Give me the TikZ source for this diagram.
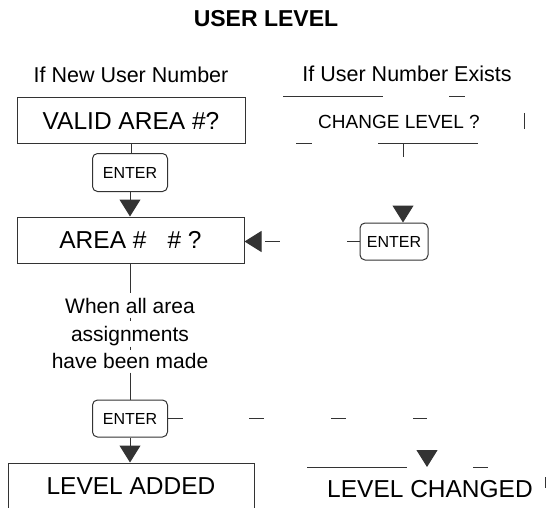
\documentclass[tikz,border=0pt]{standalone}
\usepackage{fontspec}
\setmainfont{Liberation Sans}
\usetikzlibrary{arrows.meta}
\begin{document}
\begin{tikzpicture}[x=1pt,y=-1pt,
  ln/.style={draw=black!80, line width=1pt},
  box/.style={ln, rectangle, inner sep=0pt, font=\fontsize{24.5}{29}\selectfont},
  entbox/.style={ln, rectangle, rounded corners=5pt, minimum width=75pt, minimum height=38pt, inner sep=0pt, font=\fontsize{16}{19}\selectfont},
  hdr/.style={font=\fontsize{21.5}{26}\selectfont, inner sep=0pt, anchor=base},
  note/.style={font=\fontsize{21}{25}\selectfont, inner sep=0pt, anchor=base},
  big/.style={font=\fontsize{24.5}{29}\selectfont, inner sep=0pt},
  tip/.style={-{Triangle[length=17pt,width=21pt]}}
]
\useasboundingbox (0,0) rectangle (551,508);

% texts and boxes
\node[font=\bfseries\fontsize{23}{27}\selectfont, inner sep=0pt] (title) at (266,18.5) {USER LEVEL};
\node[hdr] (hnew) at (131,83) {If New User Number};
\node[hdr] (hex) at (407,82) {If User Number Exists};
\node[box, minimum width=228pt, minimum height=45pt] (valid) at (131,120.5) {VALID AREA \#?};
\node[big, font=\fontsize{19}{23}\selectfont] (chg) at (399,122) {CHANGE LEVEL ?};
\node[entbox] (e1) at (130,172.5) {ENTER};
\node[box, minimum width=227pt, minimum height=46pt] (area) at (130.5,240) {AREA~\#\hspace{21pt}\#~?};
\node[entbox, minimum width=68pt, minimum height=37pt] (e2) at (394,241.5) {ENTER};
\node[note] (w1) at (130,313.5) {When all area};
\node[note] (w2) at (130,341) {assignments};
\node[note] (w3) at (130,368.5) {have been made};
\node[entbox, minimum height=37pt] (e3) at (130,418.5) {ENTER};
\node[box, minimum width=246pt, minimum height=47pt] (added) at (131,486.5) {\raisebox{1.5pt}{LEVEL ADDED}};
\node[big] (chd) at (430,489) {LEVEL CHANGED};

\coordinate (chgS) at (403,143);
\coordinate (chdN) at (427,467);

% connectors
\draw[ln] (valid.south) -- (valid.south |- e1.north);
\draw[ln, tip] (e1.south) -- (e1.south |- area.north);
\draw[ln, tip, dash pattern=on 13pt off 67pt on 15pt off 10pt] (e2.west) -- (e2.west -| area.east);
\draw[ln, tip, dash pattern=on 14pt off 80pt] (chgS) -- (chgS |- e2.north);
\draw[ln, dash pattern=on 29pt off 25pt on 3pt off 26pt on 3pt off 23pt on 40pt] (area.south) -- (area.south |- e3.north);
\draw[ln, tip] (e3.south) -- (e3.south |- added.north);
\draw[ln, tip, dash pattern=on 15pt off 66pt on 15pt off 67pt on 15pt off 67pt on 14pt off 120pt] (e3.east) -| (chdN);

% visible fragments of the outlines round the right-hand texts
\draw[ln] (283,97) -- (383,97);
\draw[ln] (449,97) -- (465,97);
\draw[ln] (524,113) -- (524,129);
\draw[ln] (296,143) -- (312,143);
\draw[ln] (378,143) -- (478,143);
\draw[ln] (307,467) -- (407,467);
\draw[ln] (473,467) -- (488,467);
\draw[ln] (545,477) -- (545,488);
\end{tikzpicture}
\end{document}
